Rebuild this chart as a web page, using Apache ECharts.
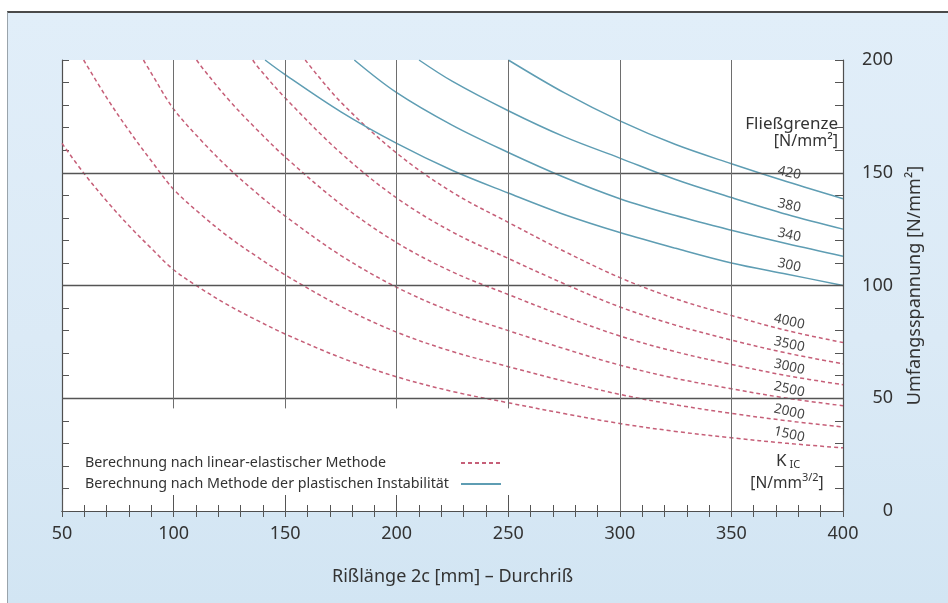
<!DOCTYPE html>
<html>
<head>
<meta charset="utf-8">
<script src="https://cdn.jsdelivr.net/npm/echarts@6/dist/echarts.min.js"></script>
<style>
  html, body { margin: 0; padding: 0; background: #ffffff; }
  #panel {
    position: absolute; left: 7px; top: 11px; width: 941px; height: 592px;
    background: linear-gradient(180deg, #e1eef9 0%, #dbeaf6 55%, #d2e5f3 100%);
    border-top: 2px solid #4a4a4a; border-left: 1px solid #9aa4ab;
  }
  #chart { position: absolute; left: 0; top: 0; width: 948px; height: 603px; }
</style>
</head>
<body>
<div id="panel"></div>
<div id="chart"></div>
<script>
// Crack length 2c [mm] vs. hoop stress [N/mm²]
// Linear-elastic curves, one per fracture toughness K_IC [N/mm^3/2]
const kic1500 = [[50,163],[60,149.5],[70,137.5],[80,126.5],[90,116.5],[100,107],[112.5,98.5],[125,91],[137.5,84.5],[150,78.5],[175,68],[200,59.5],[225,53],[250,48],[275,43.2],[300,38.8],[325,35.3],[350,32.5],[375,30],[400,28]];
const kic2000 = [[59.7,200],[70,183.3],[80,168.7],[90,155.3],[100,142.7],[112.5,131.3],[125,121.3],[137.5,112.7],[150,104.7],[175,90.7],[200,79.3],[225,70.7],[250,64],[275,57.6],[300,51.7],[325,47.1],[350,43.3],[375,40],[400,37.3]];
const kic2500 = [[86.5,200],[90,194.2],[100,178.3],[112.5,164.2],[125,151.7],[137.5,140.8],[150,130.8],[175,113.3],[200,99.2],[225,88.3],[250,80],[275,72],[300,64.7],[325,58.8],[350,54.2],[375,50],[400,46.7]];
const kic3000 = [[110.3,200],[112.5,197],[125,182],[137.5,169],[150,157],[175,136],[200,119],[225,106],[250,96],[275,86.4],[300,77.6],[325,70.6],[350,65],[375,60],[400,56]];
const kic3500 = [[135.5,200],[137.5,197.2],[150,183.2],[175,158.7],[200,138.8],[225,123.7],[250,112],[275,100.8],[300,90.5],[325,82.4],[350,75.8],[375,70],[400,65.3]];
const kic4000 = [[159,200],[175,181.3],[200,158.7],[225,141.3],[250,128],[275,115.2],[300,103.5],[325,94.1],[350,86.7],[375,80],[400,74.7]];

// Plastic-instability curves, one per yield strength [N/mm²]
const ys300 = [[141,200],[150,193.5],[175,177],[200,163],[225,151],[250,141],[275,131.5],[300,123.5],[325,116.5],[350,110],[375,105],[400,100]];
const ys340 = [[181,200],[200,185.5],[225,171],[250,159],[275,148],[300,138.5],[325,131],[350,124.5],[375,118.5],[400,113]];
const ys380 = [[210,200],[225,190.5],[250,177.5],[275,166],[300,156.5],[325,147],[350,139],[375,131.5],[400,125]];
const ys420 = [[250,200],[275,185.5],[300,173],[325,162.5],[350,154],[375,146],[400,138.5]];

const kicCurves = [['1500', kic1500], ['2000', kic2000], ['2500', kic2500], ['3000', kic3000], ['3500', kic3500], ['4000', kic4000]];
const yieldCurves = [['300', ys300], ['340', ys340], ['380', ys380], ['420', ys420]];

const labelX = 375;
const nameLinear = 'Berechnung nach linear-elastischer Methode';
const namePlastic = 'Berechnung nach Methode der plastischen Instabilität';

const FONT = '"Noto Sans", "DejaVu Sans", sans-serif';
const TXT = '#333333';
const RED = '#c65f78';
const BLUE = '#5e9db3';

function valueAt(points, x) {
  const p = points.find(d => d[0] === x);
  return p ? p[1] : null;
}

function curveSeries(seriesName, tag, points, color, dashed) {
  return {
    type: 'line',
    name: seriesName,
    data: points,
    smooth: 0.35,
    symbol: 'none',
    z: 3,
    lineStyle: { color: color, width: 1.5, type: dashed ? [4, 3] : 'solid' },
    itemStyle: { color: color },
    markPoint: {
      symbol: 'circle',
      symbolSize: 1,
      itemStyle: { color: 'rgba(0,0,0,0)' },
      silent: true,
      data: [{ coord: [labelX, valueAt(points, labelX)], value: tag }],
      label: {
        show: true,
        formatter: tag,
        offset: [0, -9],
        rotate: -13,
        fontSize: 13.5,
        color: '#444',
        fontFamily: FONT
      }
    }
  };
}

// grid lines (value coordinates)
const hGrid = [50, 100, 150];
const vGridFull = [300, 350];
const vGridShort = [100, 150, 200, 250];
const vGridShortFrom = 45.5;

const gridLineData = [];
hGrid.forEach(v => gridLineData.push([{ coord: [50, v], lineStyle: { color: '#555', width: 1.4 } }, { coord: [400, v] }]));
vGridFull.forEach(v => gridLineData.push([{ coord: [v, 0] }, { coord: [v, 200] }]));
vGridShort.forEach(v => gridLineData.push([{ coord: [v, vGridShortFrom] }, { coord: [v, 200] }]));

const series = [{
  type: 'line',
  name: 'grid',
  data: [],
  silent: true,
  z: 1,
  markLine: {
    silent: true,
    symbol: ['none', 'none'],
    animation: false,
    label: { show: false },
    lineStyle: { color: '#6e6e6e', width: 1, type: 'solid' },
    data: gridLineData
  }
}];
kicCurves.forEach(([tag, pts]) => series.push(curveSeries(nameLinear, tag, pts, RED, true)));
yieldCurves.forEach(([tag, pts]) => series.push(curveSeries(namePlastic, tag, pts, BLUE, false)));

const axisLine = { show: true, lineStyle: { color: '#4f4f4f', width: 1.2 } };
const tickStyle = { color: '#555', width: 1 };

const chart = echarts.init(document.getElementById('chart'), null, { renderer: 'canvas' });
chart.setOption({
  animation: false,
  textStyle: { fontFamily: FONT },
  grid: { left: 62, top: 60, right: 105, bottom: 92, show: true, backgroundColor: '#ffffff', borderWidth: 0 },
  xAxis: [{
    type: 'value', position: 'bottom', min: 50, max: 400, interval: 50,
    axisLine: axisLine,
    axisTick: { show: true, inside: true, length: 16, lineStyle: tickStyle },
    minorTick: { show: true, splitNumber: 5, length: 6, lineStyle: tickStyle },
    splitLine: { show: false },
    axisLabel: { fontSize: 18, color: TXT, margin: 14, fontFamily: FONT },
    name: 'Rißlänge 2c [mm] – Durchriß',
    nameLocation: 'middle', nameGap: 57,
    nameTextStyle: { fontSize: 18, color: TXT, fontFamily: FONT }
  }, {
    type: 'value', position: 'top', min: 50, max: 400, interval: 50,
    axisLine: axisLine,
    axisTick: { show: true, inside: true, length: 6, lineStyle: tickStyle },
    minorTick: { show: true, splitNumber: 5, length: 6, lineStyle: tickStyle },
    splitLine: { show: false },
    axisLabel: { show: false }
  }],
  yAxis: [{
    type: 'value', position: 'left', min: 0, max: 200, interval: 50,
    axisLine: axisLine,
    axisTick: { show: true, inside: true, length: 7, lineStyle: tickStyle },
    minorTick: { show: true, splitNumber: 5, length: 7, lineStyle: tickStyle },
    splitLine: { show: false },
    axisLabel: { show: false }
  }, {
    type: 'value', position: 'right', min: 0, max: 200, interval: 50,
    axisLine: axisLine,
    axisTick: { show: true, inside: true, length: 8, lineStyle: tickStyle },
    minorTick: { show: true, splitNumber: 5, length: 8, lineStyle: tickStyle },
    splitLine: { show: false },
    axisLabel: { fontSize: 18, color: TXT, margin: 50, align: 'right', padding: [12, 0, 0, 0], fontFamily: FONT },
    name: 'Umfangsspannung [N/mm²]',
    nameLocation: 'middle', nameRotate: 90, nameGap: 63,
    nameTextStyle: { fontSize: 18, color: TXT, fontFamily: FONT }
  }],
  legend: {
    data: [nameLinear, namePlastic],
    orient: 'vertical',
    left: 80, top: 451,
    align: 'right',
    itemGap: 7,
    itemWidth: 40,
    itemHeight: 14,
    selectedMode: false,
    itemStyle: { opacity: 0, borderWidth: 0 },
    formatter: n => '{t|' + n + '}',
    textStyle: {
      color: TXT, fontFamily: FONT,
      rich: { t: { width: 371, align: 'left', fontSize: 14.3, color: TXT, fontFamily: FONT } }
    }
  },
  graphic: [{
    type: 'text', x: 838, y: 124, silent: true,
    style: { text: 'Fließgrenze', align: 'right', verticalAlign: 'middle', fontSize: 17, fill: TXT, fontFamily: FONT }
  }, {
    type: 'text', x: 838, y: 141, silent: true,
    style: { text: '[N/mm²]', align: 'right', verticalAlign: 'middle', fontSize: 16, fill: TXT, fontFamily: FONT }
  }, {
    type: 'text', x: 788, y: 460, silent: true,
    style: {
      text: '{k|K}{s|IC}', align: 'center', verticalAlign: 'middle',
      rich: {
        k: { fontSize: 17, fill: TXT, fontFamily: FONT, verticalAlign: 'bottom', lineHeight: 20 },
        s: { fontSize: 11, fill: TXT, fontFamily: FONT, verticalAlign: 'bottom', lineHeight: 20, padding: [0, 0, 0, 3] }
      }
    }
  }, {
    type: 'text', x: 787, y: 482, silent: true,
    style: {
      text: '{a|[N/mm}{s|3/2}{a|]}', align: 'center', verticalAlign: 'middle',
      rich: {
        a: { fontSize: 15.5, fill: TXT, fontFamily: FONT, verticalAlign: 'bottom', lineHeight: 20 },
        s: { fontSize: 11, fill: TXT, fontFamily: FONT, verticalAlign: 'top', lineHeight: 20 }
      }
    }
  }],
  series: series
});
</script>
</body>
</html>
